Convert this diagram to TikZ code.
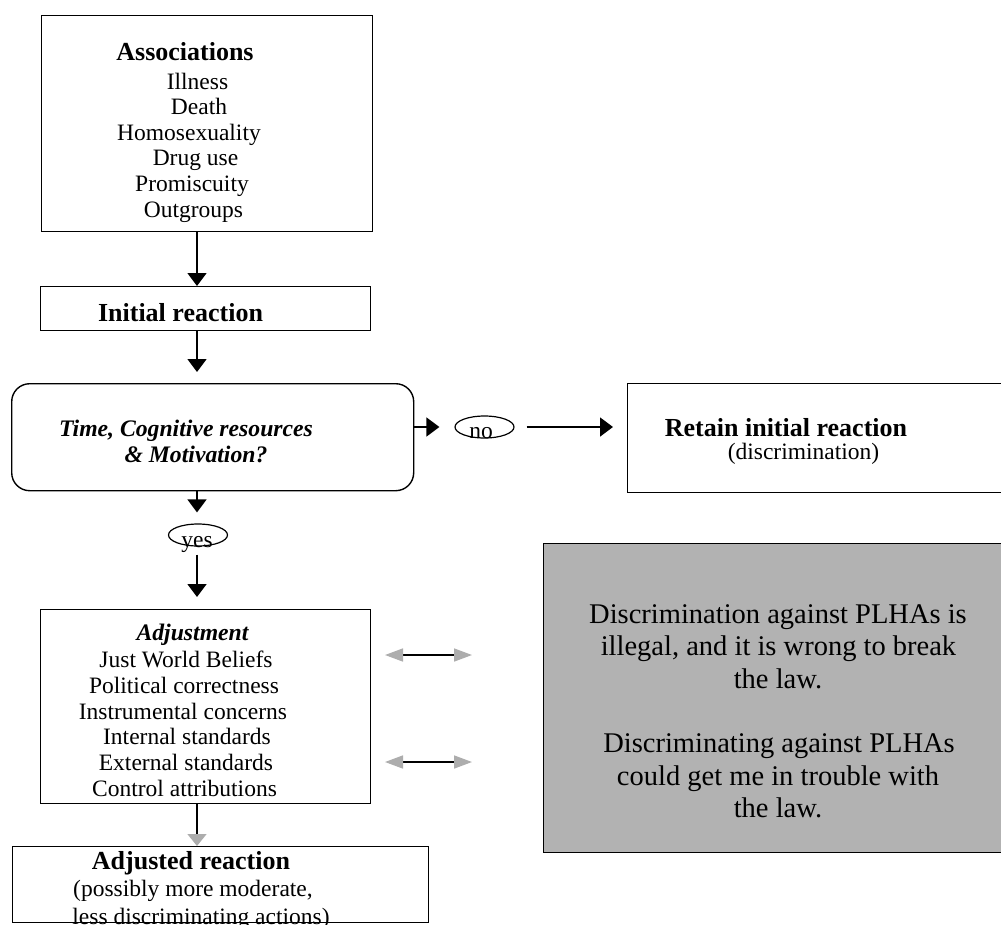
\documentclass[tikz,border=0pt]{standalone}
\usepackage{fontspec}
\setmainfont{Liberation Serif}
\usetikzlibrary{arrows.meta,shapes.geometric}
\definecolor{panelgray}{HTML}{B2B2B2}
\definecolor{tipgray}{HTML}{ADADAD}
\begin{document}
\begin{tikzpicture}[x=1pt,y=-1pt,
  box/.style={draw, line width=1.4pt, inner sep=0pt, anchor=north west},
  oval/.style={draw, ellipse, line width=1.2pt, inner sep=0pt, minimum width=59pt, minimum height=22pt},
  txt/.style={anchor=base, inner sep=0pt, font=\fontsize{23.5}{26}\selectfont},
  hd/.style={anchor=base, inner sep=0pt, font=\fontsize{26}{28}\selectfont\bfseries},
  qtxt/.style={anchor=base, inner sep=0pt, font=\fontsize{23.7}{26}\selectfont\bfseries\itshape},
  big/.style={anchor=base, inner sep=0pt, font=\fontsize{28.5}{32}\selectfont},
  arr/.style={line width=1.5pt, -{Triangle[length=13pt,width=19pt]}},
  garr/.style={line width=1.5pt, -{Triangle[length=12pt,width=19pt,color=tipgray]}},
  dbl/.style={line width=1.5pt, {Triangle[length=18pt,width=13pt,color=tipgray]}-{Triangle[length=18pt,width=13pt,color=tipgray]}}]

\useasboundingbox (0,0) rectangle (1001,924);
\clip (0,0) rectangle (1001,924);
\fill[white] (0,0) rectangle (1001,924);

% main column of the flow
\coordinate (spine) at (197,0);

% boxes
\node[box, minimum width=331pt, minimum height=216pt] (assoc) at (41,15) {};
\node[box, minimum width=330pt, minimum height=44pt] (init) at (40,286) {};
\node[box, rounded corners=18pt, minimum width=402pt, minimum height=107pt] (q) at (11,383) {};
\node[oval] (no) at (484.5,427) {};
\node[box, minimum width=383pt, minimum height=109pt] (keep) at (627,383) {};
\node[oval] (yes) at (198,535) {};
\node[box, minimum width=330pt, minimum height=194pt] (adj) at (40,609) {};
\node[box, minimum width=416pt, minimum height=76pt] (outc) at (12,846) {};
\node[box, fill=panelgray, minimum width=467pt, minimum height=309pt] (law) at (543,543) {};

% associations
\node[hd]  (t1) at (185,60)    {Associations};
\node[txt] (t2) at (197.5,89)  {Illness};
\node[txt] (t3) at (199,114.5) {Death};
\node[txt] (t4) at (189,140)   {Homosexuality};
\node[txt] (t5) at (195.5,165.5) {Drug use};
\node[txt] (t6) at (192,191)   {Promiscuity};
\node[txt] (t7) at (193.5,217) {Outgroups};

\node[hd] (t8) at (180.5,321) {Initial reaction};

\node[qtxt] (t9)  at (186,436) {Time, Cognitive resources};
\node[qtxt] (t10) at (196,462) {\& Motivation?};

\node[txt] (t11) at (481,438) {no};
\node[txt] (t12) at (197,547) {yes};

\node[hd]  (t13) at (786,436)   {Retain initial reaction};
\node[txt] (t14) at (803.5,459) {(discrimination)};

% adjustment
\node[qtxt] (a1) at (192.5,640) {Adjustment};
\node[txt]  (a2) at (186,667)   {Just World Beliefs};
\node[txt]  (a3) at (184,693)   {Political correctness};
\node[txt]  (a4) at (183,719)   {Instrumental concerns};
\node[txt]  (a5) at (187,744.5) {Internal standards};
\node[txt]  (a6) at (186,770.5) {External standards};
\node[txt]  (a7) at (184.5,796) {Control attributions};

\node[hd]  (o1) at (191,869)   {Adjusted reaction};
\node[txt] (o2) at (193,896.5) {(possibly more moderate,};
\node[txt] (o3) at (201,924)   {less discriminating actions)};

% law panel
\node[big] (l1) at (778,623)   {Discrimination against PLHAs is};
\node[big] (l2) at (778.5,655.5) {illegal, and it is wrong to break};
\node[big] (l3) at (778,688)   {the law.};
\node[big] (l4) at (779,752.5) {Discriminating against PLHAs};
\node[big] (l5) at (778,785)   {could get me in trouble with};
\node[big] (l6) at (778,817.5) {the law.};

% connectors
\draw[arr] (assoc.south -| spine) -- (init.north -| spine);
\draw[arr, shorten >=11pt] (init.south -| spine) -- (q.north -| spine);
\draw[arr, shorten >=11pt] (q.south -| spine) -- (yes.north -| spine);
\draw[arr, shorten <=8pt, shorten >=12pt] (yes.south -| spine) -- (adj.north -| spine);
\draw[arr, shorten >=15pt] (q.east |- no.west) -- (no.west);
\draw[arr, shorten <=12pt, shorten >=14pt] (no.east) -- (no.east -| keep.west);
\draw[garr] (adj.south -| spine) -- (outc.north -| spine);

\coordinate (d1a) at (385,655);
\coordinate (d1b) at (472,655);
\coordinate (d2a) at (385,762);
\coordinate (d2b) at (472,762);
\draw[dbl] (d1a) -- (d1b);
\draw[dbl] (d2a) -- (d2b);
\end{tikzpicture}
\end{document}
